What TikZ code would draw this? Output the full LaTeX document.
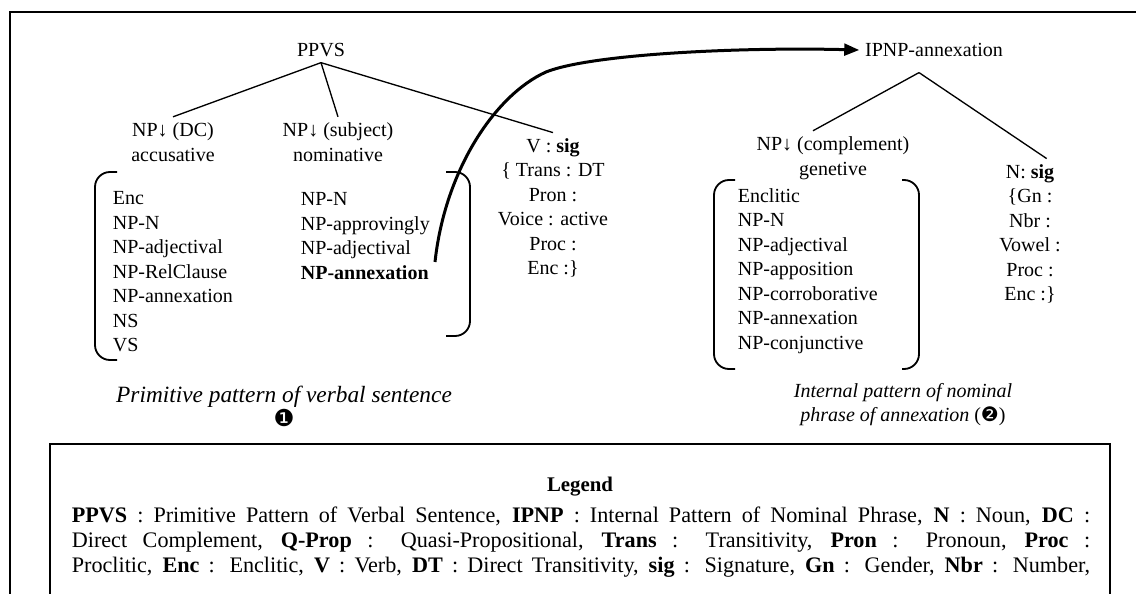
\documentclass[tikz,border=0pt]{standalone}
\usepackage{fontspec}
\setmainfont{Liberation Serif}
\newfontfamily\dingfont{DejaVu Sans}
\usetikzlibrary{arrows.meta}

\newcommand{\circnum}[1]{{\upshape\dingfont #1}}

\tikzset{
  every node/.style={font=\fontsize{12}{14.7}\selectfont},
  col/.style={align=center},
  lst/.style={align=left,anchor=west},
  capt/.style={align=center,font=\fontsize{12}{14.4}\selectfont\itshape},
  brk/.style={rounded corners=9pt,line width=1.1pt},
  branch/.style={line width=0.8pt},
  boxline/.style={line width=1.1pt},
  link/.style={line width=1.8pt,-{Triangle[length=9pt,width=7pt]}}
}

\begin{document}
\begin{tikzpicture}[x=0.6pt,y=-0.6pt]
      \useasboundingbox (0,0) rectangle (1136,594);
      \clip (0,0) rectangle (1136,594);
      \draw[boxline] (10,12) rectangle (1170,640);

      % primitive pattern of verbal sentence
      \node (ppvs) at (321,50) {PPVS};
      \node [col] (dc) at (173,142) {NP↓ (DC)\\accusative};
      \node [col] (subj) at (338,142) {NP↓ (subject)\\nominative};
      \node [col] (verb) at (553,208) {V : \textbf{sig}\\\{ Trans : DT\\Pron :\\Voice : active\\Proc :\\Enc :\}};
      \node [lst] (dclist) at (107,272) {Enc\\NP-N\\NP-adjectival\\NP-RelClause\\NP-annexation\\NS\\VS};
      \node [lst] (subjlist) at (295,236) {NP-N\\NP-approvingly\\NP-adjectival\\\textbf{NP-annexation}};
      \draw[brk] (117,172) -| (95,360) -- (117,360);
      \draw[brk] (446,172) -| (470,336) -- (446,336);
      \node [capt,font=\fontsize{14}{13.2}\selectfont\itshape] (cap1) at (284,406) {Primitive pattern of verbal sentence\\\circnum{❶}};

      % internal pattern of nominal phrase of annexation
      \node (ipnp) at (934,50) {IPNP-annexation};
      \node [col] (compl) at (833,158) {NP↓ (complement)\\genetive};
      \node [col] (noun) at (1030,234) {N: \textbf{sig}\\\{Gn :\\Nbr :\\Vowel :\\Proc :\\Enc :\}};
      \node [lst] (compllist) at (732,271) {Enclitic\\NP-N\\NP-adjectival\\NP-apposition\\NP-corroborative\\NP-annexation\\NP-conjunctive};
      \draw[brk] (735,180) -| (714,369) -- (735,369);
      \draw[brk] (902,180) -| (919,369) -- (902,369);
      \node [capt] (cap2) at (903,405) {Internal pattern of nominal\\phrase of annexation {\upshape(}\circnum{❷}{\upshape)}};

      \foreach \from/\to in {ppvs.south/dc.north,ppvs.south/subj.north,ppvs.south/verb.north}
        \draw[branch] (\from) -- (\to);
      \draw[branch] ([xshift=-9pt,yshift=-6pt]ipnp.south) -- ([xshift=-12pt]compl.north);
      \draw[branch] ([xshift=-9pt,yshift=-6pt]ipnp.south) -- ([xshift=10pt]noun.north);

      \coordinate (src) at (435,262);
      \draw[link] (src) .. controls (445,170) and (495,95) .. (546,72)
        .. controls (591,54) and (740,47) .. (ipnp.west);

      % legend
      \draw[boxline] (50,444) rectangle (1110,650);
      \node [font=\fontsize{12.5}{14.4}\selectfont\bfseries] (lgd) at (580,487) {Legend};
      \node [align=left,font=\fontsize{13.3}{15}\selectfont] (lgdtext) at (581,542) {%
        \makebox[611pt][s]{\textbf{PPVS} : Primitive Pattern of Verbal Sentence, \textbf{IPNP} : Internal Pattern of Nominal Phrase, \textbf{N} : Noun, \textbf{DC} :}\\
        \makebox[611pt][s]{Direct Complement, \textbf{Q-Prop} : Quasi-Propositional, \textbf{Trans} : Transitivity, \textbf{Pron} : Pronoun, \textbf{Proc} :}\\
        \makebox[611pt][s]{Proclitic, \textbf{Enc} : Enclitic, \textbf{V} : Verb, \textbf{DT} : Direct Transitivity, \textbf{sig} : Signature, \textbf{Gn} : Gender, \textbf{Nbr} : Number,}};
    \end{tikzpicture}
\end{document}
